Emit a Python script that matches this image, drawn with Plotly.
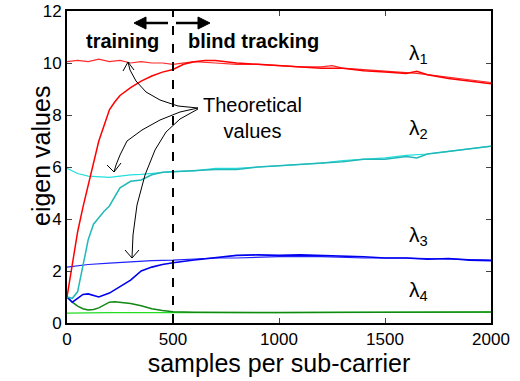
import plotly.graph_objects as go

# ---------------- data ----------------
l1_theo_x = [0, 50, 100, 150, 200, 250, 300, 350, 400, 450, 500, 550, 600, 700, 800, 900, 1000,
             1100, 1200, 1250, 1300, 1400, 1500, 1600, 1650, 1700, 1800, 1900, 2000]
l1_theo_y = [10.05, 10.1, 10.05, 10.15, 10.05, 10.1, 10.0, 10.05, 10.0, 10.0, 9.95, 10.0, 10.05, 10.0,
             9.95, 9.95, 9.9, 9.85, 9.85, 9.9, 9.8, 9.75, 9.7, 9.65, 9.6, 9.55, 9.45, 9.35, 9.25]
l1_est_x = [0, 25, 50, 75, 100, 125, 150, 175, 200, 225, 250, 300, 350, 400, 450, 500, 550, 600, 650,
            700, 800, 900, 1000, 1100, 1200, 1300, 1400, 1500, 1600, 1650, 1700, 1800, 1900, 2000]
l1_est_y = [1.0, 2.2, 3.5, 4.45, 5.3, 6.15, 7.0, 7.6, 8.2, 8.5, 8.75, 9.05, 9.3, 9.5, 9.65, 9.75, 9.95,
            10.05, 10.1, 10.1, 10.0, 9.95, 9.9, 9.85, 9.8, 9.8, 9.7, 9.65, 9.6, 9.68, 9.55, 9.4, 9.3, 9.2]

l2_theo_x = [0, 50, 100, 150, 200, 250, 300, 350, 400, 450, 500, 600, 700, 800, 900, 1000, 1100, 1200,
             1300, 1400, 1500, 1600, 1700, 1800, 1900, 2000]
l2_theo_y = [5.95, 5.75, 5.65, 5.62, 5.6, 5.65, 5.7, 5.72, 5.75, 5.8, 5.82, 5.85, 5.95, 5.95, 6.0, 6.05,
             6.1, 6.15, 6.25, 6.3, 6.35, 6.45, 6.5, 6.6, 6.7, 6.8]
l2_est_x = [0, 25, 50, 75, 85, 100, 125, 150, 175, 200, 225, 250, 300, 350, 400, 450, 500, 600, 700, 800,
            900, 1000, 1100, 1200, 1300, 1400, 1500, 1600, 1650, 1700, 1800, 1900, 2000]
l2_est_y = [1.0, 0.95, 1.2, 2.2, 2.6, 3.2, 3.8, 4.05, 4.3, 4.5, 4.85, 5.2, 5.45, 5.5, 5.7, 5.8, 5.82,
            5.85, 5.9, 5.9, 6.0, 6.05, 6.1, 6.15, 6.2, 6.3, 6.3, 6.4, 6.35, 6.5, 6.6, 6.7, 6.8]

l3_theo_x = [0, 100, 200, 300, 400, 500, 600, 700, 800, 900, 1000, 1200, 1400, 1600, 1800, 2000]
l3_theo_y = [2.15, 2.25, 2.3, 2.35, 2.4, 2.42, 2.45, 2.5, 2.5, 2.52, 2.55, 2.55, 2.5, 2.5, 2.45, 2.42]
l3_est_x = [0, 25, 50, 75, 100, 150, 200, 250, 300, 350, 400, 450, 500, 600, 700, 800, 900, 1000, 1100,
            1200, 1300, 1400, 1500, 1600, 1700, 1800, 1900, 2000]
l3_est_y = [1.0, 0.8, 0.95, 1.1, 1.12, 1.0, 1.15, 1.4, 1.65, 2.0, 2.15, 2.25, 2.32, 2.42, 2.5, 2.6,
            2.62, 2.6, 2.62, 2.6, 2.58, 2.55, 2.5, 2.5, 2.45, 2.48, 2.42, 2.4]

l4_theo_x = [0, 200, 500, 800, 1000, 1300, 1500, 1800, 2000]
l4_theo_y = [0.38, 0.4, 0.4, 0.39, 0.4, 0.41, 0.42, 0.42, 0.42]
l4_est_x = [0, 25, 50, 75, 100, 125, 150, 175, 200, 225, 250, 300, 350, 400, 450, 500, 600, 800, 1000,
            1500, 2000]
l4_est_y = [1.0, 0.8, 0.65, 0.55, 0.5, 0.52, 0.58, 0.7, 0.8, 0.82, 0.8, 0.75, 0.66, 0.55, 0.48, 0.43,
            0.41, 0.4, 0.4, 0.41, 0.42]

x_ticks = [0, 500, 1000, 1500, 2000]
y_ticks = [0, 2, 4, 6, 8, 10, 12]
boundary = 500

FONT = "Liberation Sans, Arial, sans-serif"

fig = go.Figure()

def add(x, y, color, w):
    fig.add_trace(go.Scatter(x=x, y=y, mode="lines", line=dict(color=color, width=w),
                             showlegend=False, hoverinfo="skip"))

add(l4_theo_x, l4_theo_y, "#22dd22", 1.2)
add(l4_est_x, l4_est_y, "#118811", 1.5)
add(l3_theo_x, l3_theo_y, "#2222ff", 1.2)
add(l3_est_x, l3_est_y, "#0000ee", 1.6)
add(l2_theo_x, l2_theo_y, "#22e0e0", 1.2)
add(l2_est_x, l2_est_y, "#22b8b8", 1.5)
add(l1_theo_x, l1_theo_y, "#ff2a2a", 1.2)
add(l1_est_x, l1_est_y, "#ff0000", 1.5)

# pixel -> data helpers for the decorative annotation arrows (page pixels)
X0, X1, Y0, YS = 67, 491, 323, 26.0
def dx(px): return (px - X0) / (X1 - X0) * 2000
def dy(py): return (Y0 - py) / YS

def path(points):
    s = "M %f,%f" % (dx(points[0][0]), dy(points[0][1]))
    for p in points[1:]:
        s += " L %f,%f" % (dx(p[0]), dy(p[1]))
    return s

shapes = []
shapes.append(dict(type="line", x0=boundary, x1=boundary, y0=0, y1=12, xref="x", yref="y",
                   line=dict(color="black", width=2, dash="dash")))
curves = [
    [(198, 108), (178, 106), (160, 100), (146, 92), (136, 81), (130, 70), (128, 62)],
    [(198, 108), (180, 112), (160, 120), (142, 130), (127, 141), (120, 155), (116, 165), (114, 172)],
    [(198, 109), (180, 119), (166, 132), (155, 150), (145, 175), (137, 205), (133, 235), (132, 258)],
]
heads = [
    [(123, 71), (128, 62), (134, 70)],
    [(107, 165), (114, 172), (121, 163)],
    [(125, 250), (132, 258), (139, 250)],
]
for c in curves + heads:
    shapes.append(dict(type="path", path=path(c), xref="x", yref="y",
                       line=dict(color="black", width=1)))
# double-headed arrow above the boundary
shapes.append(dict(type="path", path=path([(168, 23), (136, 23)]), xref="x", yref="y",
                   line=dict(color="black", width=2.5)))
shapes.append(dict(type="path", path=path([(176, 23), (206, 23)]), xref="x", yref="y",
                   line=dict(color="black", width=2.5)))
shapes.append(dict(type="path", path=path([(146, 17), (134, 23), (146, 29), (146, 17)]) + " Z",
                   xref="x", yref="y", fillcolor="black", line=dict(color="black", width=1)))
shapes.append(dict(type="path", path=path([(198, 17), (210, 23), (198, 29), (198, 17)]) + " Z",
                   xref="x", yref="y", fillcolor="black", line=dict(color="black", width=1)))

annotations = [
    dict(x=dx(122), y=dy(41), text="<b>training</b>", showarrow=False,
         font=dict(size=20, family=FONT, color="black")),
    dict(x=dx(253), y=dy(41), text="<b>blind tracking</b>", showarrow=False,
         font=dict(size=20, family=FONT, color="black")),
    dict(x=dx(201), y=dy(118), text="Theoretical<br>values", showarrow=False, xanchor="left",
         align="center", font=dict(size=20, family=FONT, color="black")),
    # y-axis title, placed like the reference (slightly above the axis middle)
    dict(x=(25 - X0) / (X1 - X0), y=(Y0 - 156) / (Y0 - 11), xref="paper", yref="paper",
         text="eigen values", textangle=-90, showarrow=False,
         font=dict(size=25, family=FONT, color="black")),
]
lam_y = [dy(54), dy(129), dy(236), dy(291)]
for i, yy in enumerate(lam_y):
    annotations.append(dict(x=dx(418), y=yy, text="λ<sub>%d</sub>" % (i + 1), showarrow=False,
                            font=dict(size=21, family=FONT, color="black")))

fig.update_layout(
    width=520, height=381,
    margin=dict(l=67, r=29, t=11, b=58),
    paper_bgcolor="white", plot_bgcolor="white",
    font=dict(family=FONT, size=17, color="black"),
    shapes=shapes, annotations=annotations,
    xaxis=dict(range=[0, 2000], tickvals=x_ticks, ticks="inside", ticklen=5, tickwidth=1,
               showgrid=False, zeroline=False, showline=True, linecolor="black", linewidth=2,
               mirror="ticks", tickfont=dict(size=17), automargin=False,
               title=dict(text="samples per sub-carrier", font=dict(size=25), standoff=0)),
    yaxis=dict(range=[0, 12], tickvals=y_ticks, ticks="inside", ticklen=5, tickwidth=1,
               showgrid=False, zeroline=False, showline=True, linecolor="black", linewidth=2,
               mirror="ticks", tickfont=dict(size=17), automargin=False),
)

# remove the default 8px page-body margin so the figure sits at the window's corner
fig.write_html("out.html", config={"displayModeBar": False},
               post_script="document.body.style.margin='0';document.body.style.padding='0';")
